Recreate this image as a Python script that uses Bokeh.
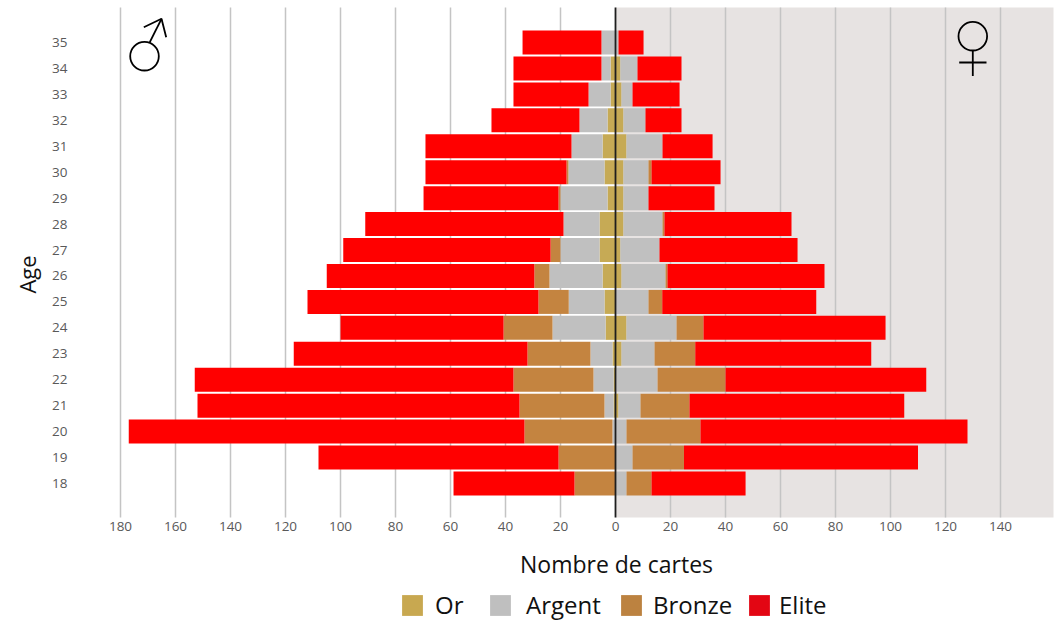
from bokeh.plotting import figure
from bokeh.models import (ColumnDataSource, FixedTicker, BoxAnnotation, Label, Legend, LegendItem, LinearAxis)
from bokeh.embed import file_html
from bokeh.resources import INLINE

ages = list(range(18, 36))
series = ["Or", "Argent", "Bronze", "Elite"]
bar_colors = ["#C6AA55", "#C0C0C0", "#C48440", "#FF0000"]
legend_colors = ["#C8A850", "#BFBFBF", "#BC8240", "#E30613"]

male_or     = [0, 0, 0, .7, .7, 1.1, 3.6, 4, 4.7, 5.8, 5.8, 2.9, 4, 4.7, 2.9, 1.8, 1.8, 0]
male_argent = [0, 0, 1.1, 3.3, 7.3, 8, 19.3, 13, 19.3, 14.2, 13.1, 17.1, 13.1, 11.3, 10.2, 8, 3.3, 5.1]
male_bronze = [14.9, 20.7, 32, 30.9, 29.1, 22.9, 17.8, 11, 5.5, 3.6, 0, .7, .7, 0, 0, 0, 0, 0]
male_elite  = [44, 87.3, 143.9, 117.1, 115.9, 85, 59.3, 84, 75.5, 75.4, 72.1, 49.1, 51.3, 53.1, 32, 27.3, 32, 28.7]

female_or     = [0, 0, 0, 1.1, .2, 2.2, 4, 0, 2.2, 1.8, 2.9, 2.9, 2.9, 4, 2.9, 2.2, 1.8, 0]
female_argent = [4, 6.2, 4, 8, 15.1, 12, 18.2, 12, 16, 14.2, 14.2, 9.1, 9.1, 13.1, 8, 4, 6.2, 1.1]
female_bronze = [9.1, 18.7, 26.9, 17.8, 24.7, 14.8, 9.8, 5, .7, 0, .7, 0, 1.1, 0, 0, 0, 0, 0]
female_elite  = [34.2, 85.1, 97.1, 78.1, 73, 64, 66.2, 56, 57.1, 50.2, 46.2, 24, 25.1, 18.2, 13.1, 17.1, 16, 9.1]

x_ticks = list(range(-180, 160, 20))
x_tick_labels = {t: str(abs(t)) for t in x_ticks}

def X(px):
    return (px - 615) / 2.75
def Y(py):
    return 18 + (483 - py) / 25.94

PLOT_TOP, PLOT_BOTTOM, PLOT_LEFT, PLOT_RIGHT = 7, 517, 75, 1053

p = figure(width=1057, height=621, output_backend="svg", toolbar_location=None,
           x_axis_location=None, y_axis_location=None,
           x_range=(X(0), X(1057)), y_range=(Y(621), Y(0)),
           min_border_left=0, min_border_right=0, min_border_top=0, min_border_bottom=0,
           outline_line_color=None)
p.grid.visible = False

p.add_layout(BoxAnnotation(left=0, right=X(PLOT_RIGHT), bottom=Y(PLOT_BOTTOM), top=Y(PLOT_TOP),
                           fill_color="#E7E3E2", fill_alpha=1, line_color=None, level="underlay"))

grid_ticks = [t for t in x_ticks if t != 0]
p.segment(x0=grid_ticks, x1=grid_ticks, y0=[Y(PLOT_BOTTOM)] * len(grid_ticks), y1=[Y(PLOT_TOP)] * len(grid_ticks),
          line_color="#C4C4C4", line_width=1.5)

male = ColumnDataSource(dict(age=ages, Or=[-v for v in male_or], Argent=[-v for v in male_argent],
                             Bronze=[-v for v in male_bronze], Elite=[-v for v in male_elite]))
female = ColumnDataSource(dict(age=ages, Or=female_or, Argent=female_argent,
                               Bronze=female_bronze, Elite=female_elite))
p.hbar_stack(series, y="age", height=0.925, color=bar_colors, line_color=None, source=male)
p.hbar_stack(series, y="age", height=0.925, color=bar_colors, line_color=None, source=female)

p.segment(x0=[0], x1=[0], y0=[Y(PLOT_BOTTOM)], y1=[Y(PLOT_TOP)], line_color="#1E1E1E", line_width=1.8)

xaxis = LinearAxis(ticker=FixedTicker(ticks=x_ticks), major_label_overrides=x_tick_labels,
                   fixed_location=Y(PLOT_BOTTOM), major_label_standoff=4)
yaxis = LinearAxis(ticker=FixedTicker(ticks=ages), fixed_location=X(PLOT_LEFT), major_label_standoff=8)
for ax in (xaxis, yaxis):
    ax.axis_line_color = None
    ax.major_tick_line_color = None
    ax.minor_tick_line_color = None
    ax.major_tick_out = 0
    ax.major_tick_in = 0
    ax.major_label_text_font = "Open Sans"
    ax.major_label_text_font_size = "13.5px"
    ax.major_label_text_color = "#595959"
p.add_layout(xaxis, "below")
p.add_layout(yaxis, "left")

p.add_layout(Label(x=X(616), y=Y(563.5), text="Nombre de cartes", text_font="Open Sans", text_font_size="23px",
                   text_color="#111111", text_align="center", text_baseline="middle"))
p.add_layout(Label(x=X(26.5), y=Y(274), text="Age", angle=90, angle_units="deg", text_font="Open Sans",
                   text_font_size="22px", text_color="#111111", text_align="center", text_baseline="middle"))

sym = dict(line_color="#000000", line_width=1.8)
p.scatter([X(144)], [Y(55.7)], size=28.6, marker="circle", fill_color=None, **sym)
p.multi_line([[X(149.3), X(161)], [X(143.3), X(161), X(165.7)]],
             [[Y(41.7), Y(18.3)], [Y(26.7), Y(18.3), Y(36.7)]], **sym)
p.scatter([X(972.3)], [Y(35.7)], size=28.6, marker="circle", fill_color=None, **sym)
p.multi_line([[X(972.3), X(972.3)], [X(958.7), X(986)]],
             [[Y(50), Y(75.5)], [Y(62), Y(62)]], **sym)

legend_pos = [399, 487, 618, 746]
legend_standoff = [10, 13, 9, 7]
for name, col, lx, so in zip(series, legend_colors, legend_pos, legend_standoff):
    r = p.hbar(y=ages[:1], left=[0], right=[0], height=0.5, color=col, line_color=None)
    lg = Legend(items=[LegendItem(label=name, renderers=[r])], location=(lx, 0),
                orientation="horizontal", border_line_color=None, background_fill_alpha=0,
                padding=0, margin=0, glyph_width=26, glyph_height=26, label_standoff=so,
                label_text_font="Open Sans", label_text_font_size="24px", label_text_color="#111111",
                label_height=21)
    p.add_layout(lg)

open("out.html", "w").write(file_html(p, INLINE))
